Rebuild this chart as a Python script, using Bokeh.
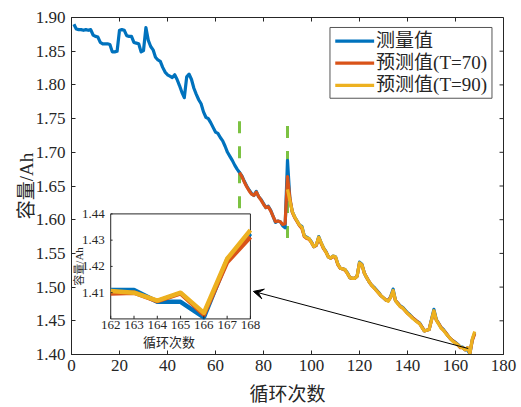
from bokeh.plotting import figure
from bokeh.models import Range1d, FixedTicker, PrintfTickFormatter, Arrow, VeeHead
from bokeh.core.properties import value
from bokeh.embed import file_html
from bokeh.resources import INLINE

# ---------------- data ----------------
cycles = list(range(1, 169))
measured = [
    1.890, 1.883, 1.882, 1.882, 1.881, 1.882, 1.881, 1.882, 1.874, 1.872,
    1.871, 1.863, 1.861, 1.861, 1.861, 1.860, 1.849, 1.849, 1.850, 1.881,
    1.882, 1.881, 1.873, 1.872, 1.872, 1.863, 1.862, 1.861, 1.849, 1.851,
    1.885, 1.866, 1.857, 1.852, 1.841, 1.837, 1.835, 1.826, 1.819, 1.815,
    1.813, 1.811, 1.815, 1.808, 1.799, 1.789, 1.781, 1.812, 1.816, 1.808,
    1.795, 1.786, 1.778, 1.772, 1.760, 1.752, 1.750, 1.744, 1.737, 1.730,
    1.728, 1.722, 1.717, 1.709, 1.700, 1.694, 1.688, 1.681, 1.675, 1.670,
    1.665, 1.657, 1.650, 1.644, 1.639, 1.636, 1.642, 1.634, 1.630, 1.624,
    1.618, 1.620, 1.614, 1.605, 1.596, 1.598, 1.597, 1.591, 1.588, 1.688,
    1.630, 1.612, 1.604, 1.598, 1.592, 1.590, 1.576, 1.574, 1.572, 1.567,
    1.560, 1.562, 1.575, 1.566, 1.558, 1.553, 1.545, 1.543, 1.546, 1.545,
    1.534, 1.528, 1.527, 1.526, 1.521, 1.514, 1.513, 1.513, 1.516, 1.537,
    1.534, 1.521, 1.514, 1.508, 1.503, 1.500, 1.496, 1.492, 1.487, 1.484,
    1.481, 1.480, 1.486, 1.497, 1.480, 1.476, 1.472, 1.470, 1.466, 1.462,
    1.459, 1.455, 1.452, 1.449, 1.447, 1.441, 1.435, 1.436, 1.437, 1.452,
    1.467, 1.452, 1.446, 1.440, 1.437, 1.432, 1.427, 1.423, 1.420, 1.418,
    1.415, 1.411, 1.411, 1.407, 1.407, 1.401, 1.422, 1.432,
]

cycles_t70 = list(range(70, 169))
pred_t70 = [
    1.670, 1.664, 1.656, 1.649, 1.643, 1.638, 1.636, 1.641, 1.634, 1.629,
    1.623, 1.618, 1.619, 1.613, 1.605, 1.597, 1.598, 1.597, 1.593, 1.594,
    1.664, 1.632, 1.611, 1.603, 1.597, 1.591, 1.587, 1.575, 1.572, 1.571,
    1.566, 1.560, 1.562, 1.573, 1.565, 1.557, 1.552, 1.545, 1.543, 1.545,
    1.544, 1.533, 1.528, 1.527, 1.525, 1.520, 1.514, 1.513, 1.513, 1.516,
    1.535, 1.533, 1.521, 1.514, 1.508, 1.503, 1.499, 1.495, 1.491, 1.487,
    1.484, 1.481, 1.480, 1.485, 1.494, 1.480, 1.476, 1.471, 1.469, 1.465,
    1.461, 1.458, 1.455, 1.452, 1.449, 1.446, 1.441, 1.435, 1.436, 1.437,
    1.451, 1.464, 1.451, 1.446, 1.440, 1.436, 1.432, 1.427, 1.423, 1.420,
    1.417, 1.414, 1.410, 1.410, 1.407, 1.410, 1.402, 1.421, 1.431,
]

cycles_t90 = list(range(90, 169))
pred_t90 = [
    1.645, 1.628, 1.612, 1.604, 1.598, 1.592, 1.589, 1.576, 1.573, 1.572,
    1.566, 1.560, 1.563, 1.574, 1.566, 1.558, 1.552, 1.545, 1.543, 1.546,
    1.545, 1.534, 1.528, 1.527, 1.526, 1.520, 1.514, 1.513, 1.513, 1.516,
    1.536, 1.533, 1.521, 1.514, 1.508, 1.503, 1.499, 1.495, 1.491, 1.487,
    1.484, 1.481, 1.479, 1.485, 1.495, 1.480, 1.475, 1.471, 1.469, 1.465,
    1.461, 1.458, 1.454, 1.451, 1.448, 1.446, 1.440, 1.435, 1.436, 1.437,
    1.451, 1.465, 1.451, 1.445, 1.439, 1.436, 1.431, 1.427, 1.423, 1.419,
    1.417, 1.414, 1.411, 1.410, 1.407, 1.410, 1.402, 1.423, 1.434,
]

# zoomed inset data (cycles 162-168)
inset_cycles = [162, 163, 164, 165, 166, 167, 168]
inset_measured = [1.4110, 1.4110, 1.4065, 1.4065, 1.4006, 1.4225, 1.4325]
inset_t70 = [1.4097, 1.4100, 1.4068, 1.4097, 1.4016, 1.4216, 1.4312]
inset_t90 = [1.4106, 1.4100, 1.4070, 1.4100, 1.4023, 1.4229, 1.4338]

x_ticks = [0, 20, 40, 60, 80, 100, 120, 140, 160, 180]
y_ticks = [1.40, 1.45, 1.50, 1.55, 1.60, 1.65, 1.70, 1.75, 1.80, 1.85, 1.90]
inset_x_ticks = [162, 163, 164, 165, 166, 167, 168]
inset_y_ticks = [1.41, 1.42, 1.43, 1.44]

# start-of-prediction markers (T = 70, T = 90)
split_x = [70, 90]
split_lo = [1.617, 1.573]
split_hi = [1.746, 1.740]

labels = ["测量值", "预测值(T=70)", "预测值(T=90)"]
x_label = "循环次数"
y_label = "容量/Ah"

# ---------------- styles ----------------
C_BLUE = "#0072BD"
C_ORANGE = "#D95319"
C_YELLOW = "#EDB120"
C_GREEN = "#7CC242"
AX = "#262626"
FONT = "Liberation Serif, Noto Sans CJK SC"
series_colors = [C_BLUE, C_ORANGE, C_YELLOW]

X0, X1 = 0, 180
Y0, Y1 = 1.40, 1.90

p = figure(width=521, height=407, x_range=Range1d(X0, X1), y_range=Range1d(Y0, Y1),
           output_backend="svg", toolbar_location=None,
           min_border_left=71, min_border_right=18, min_border_top=17, min_border_bottom=52)
p.xgrid.visible = False
p.ygrid.visible = False
p.outline_line_color = AX
p.outline_line_width = 1
p.background_fill_color = "white"
p.border_fill_color = "white"

for ax in (p.xaxis[0], p.yaxis[0]):
    ax.major_tick_in = 4
    ax.major_tick_out = 0
    ax.minor_tick_line_color = None
    ax.axis_line_color = AX
    ax.major_tick_line_color = AX
    ax.major_label_text_font = FONT
    ax.major_label_text_font_size = "17px"
    ax.major_label_text_color = AX
    ax.axis_label_text_font = FONT
    ax.axis_label_text_font_size = "19px"
    ax.axis_label_text_font_style = "normal"
    ax.axis_label_text_color = AX

p.xaxis.ticker = FixedTicker(ticks=x_ticks)
p.yaxis.ticker = FixedTicker(ticks=y_ticks)
p.yaxis.formatter = PrintfTickFormatter(format="%.2f")
p.xaxis.axis_label = x_label
p.yaxis.axis_label = y_label
p.yaxis.major_label_standoff = 6
p.yaxis.axis_label_standoff = -4
p.xaxis.major_label_standoff = 5
p.xaxis.axis_label_standoff = 10

# inward ticks on the top and right edges of the box
n_x = len(x_ticks)
n_y = len(y_ticks)
p.segment(x0=x_ticks, y0=[Y1] * n_x, x1=x_ticks, y1=[Y1 - 0.006] * n_x, line_color=AX, line_width=1)
p.segment(x0=[X1] * n_y, y0=y_ticks, x1=[X1 - 1.66] * n_y, y1=y_ticks, line_color=AX, line_width=1)

# prediction start lines
for sx, lo, hi in zip(split_x, split_lo, split_hi):
    p.line(x=[sx, sx], y=[lo, hi], line_color=C_GREEN, line_width=3, line_dash="12 13")

p.line(cycles, measured, line_color=C_BLUE, line_width=3.2, line_join="round")
p.line(cycles_t70, pred_t70, line_color=C_ORANGE, line_width=3.2, line_join="round")
p.line(cycles_t90, pred_t90, line_color=C_YELLOW, line_width=3.2, line_join="round")

# ---------------- legend (MATLAB-style, compact) ----------------
LEG_L, LEG_R, LEG_T, LEG_B = 107.7, 175.2, 1.8852, 1.7802
LEG_ROWS = [1.8649, 1.8324, 1.7994]
LEG_G0, LEG_G1, LEG_TX = 109.9, 126.1, 126.9
p.quad(left=[LEG_L], right=[LEG_R], top=[LEG_T], bottom=[LEG_B],
       fill_color="white", line_color="#555555", line_width=1)
for lab, col, ry in zip(labels, series_colors, LEG_ROWS):
    p.line(x=[LEG_G0, LEG_G1], y=[ry, ry], line_color=col, line_width=3.2)
p.text(x=[LEG_TX] * len(labels), y=LEG_ROWS, text=labels, text_align="left",
       text_baseline="middle", y_offset=-1,
       text_font=value(FONT), text_font_size="19px", text_color=AX)

# arrow from the zoomed region to the inset
p.add_layout(Arrow(end=VeeHead(size=10, line_color="black", fill_color="black", line_width=1),
                   x_start=165.3, y_start=1.4089, x_end=75.8, y_end=1.4936,
                   line_color="black", line_width=1))

# ---------------- inset ----------------
sub = p.subplot(x_source=Range1d(162, 168), y_source=Range1d(1.40, 1.44),
                x_target=Range1d(16.34, 74.55), y_target=Range1d(1.4528, 1.6086))
sub.quad(left=[162], right=[168], bottom=[1.40], top=[1.44],
         fill_color="white", line_color=AX, line_width=1)
sub.line(inset_cycles, inset_measured, line_color=C_BLUE, line_width=4.5, line_join="round")
sub.line(inset_cycles, inset_t70, line_color=C_ORANGE, line_width=4.5, line_join="round")
sub.line(inset_cycles, inset_t90, line_color=C_YELLOW, line_width=4.5, line_join="round")
sub.segment(x0=inset_x_ticks, y0=[1.40] * len(inset_x_ticks), x1=inset_x_ticks,
            y1=[1.4012] * len(inset_x_ticks), line_color=AX, line_width=1)
sub.segment(x0=[162] * len(inset_y_ticks), y0=inset_y_ticks, x1=[162.08] * len(inset_y_ticks),
            y1=inset_y_ticks, line_color=AX, line_width=1)
sub.text(x=inset_x_ticks, y=[1.40] * len(inset_x_ticks), text=[str(t) for t in inset_x_ticks],
         text_align="center", text_baseline="top", y_offset=2,
         text_font=value(FONT), text_font_size="13px", text_color=AX)
sub.text(x=[162] * len(inset_y_ticks), y=inset_y_ticks, text=["%.2f" % t for t in inset_y_ticks],
         text_align="right", text_baseline="middle", x_offset=-6,
         text_font=value(FONT), text_font_size="13px", text_color=AX)
sub.text(x=[164.5], y=[1.40], text=[x_label], text_align="center", text_baseline="top",
         y_offset=16, text_font=value(FONT), text_font_size="13px", text_color=AX)
sub.text(x=[162], y=[1.42], text=[y_label], text_align="center", text_baseline="middle",
         angle=1.5708, x_offset=-32, text_font=value(FONT), text_font_size="11px", text_color=AX)

open("out.html", "w").write(file_html(p, INLINE))
